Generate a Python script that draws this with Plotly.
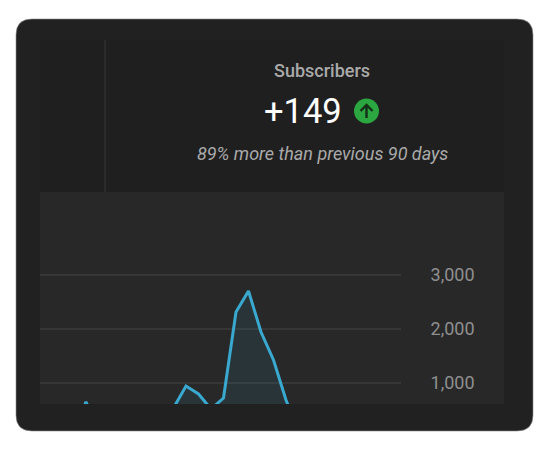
import plotly.graph_objects as go

# daily subscribers, the chart is cropped at the bottom so low values are estimates
days = list(range(30))
subs = [90, 70, 60, 120, 650, 130, 110, 80, 90, 120, 150, 537, 944, 796, 518,
        722, 2315, 2704, 1944, 1426, 685, 100, 80, 60, 90, 70, 60, 80, 70, 60]
tick_vals = [1000, 2000, 3000]
tick_text = ["1,000", "2,000", "3,000"]

title = "Subscribers"
big_number = "+149"
subtitle = "89% more than previous 90 days"

W, H = 550, 450
L, R, T, B = 40, 401, 192, 404


def px(x):
    return (x - L) / (R - L)


def py(y):
    return (B - y) / (B - T)


def rounded(x0, y0, x1, y1, r):
    return (f"M {px(x0 + r)} {py(y0)} L {px(x1 - r)} {py(y0)} "
            f"Q {px(x1)} {py(y0)} {px(x1)} {py(y0 + r)} L {px(x1)} {py(y1 - r)} "
            f"Q {px(x1)} {py(y1)} {px(x1 - r)} {py(y1)} L {px(x0 + r)} {py(y1)} "
            f"Q {px(x0)} {py(y1)} {px(x0)} {py(y1 - r)} L {px(x0)} {py(y0 + r)} "
            f"Q {px(x0)} {py(y0)} {px(x0 + r)} {py(y0)} Z")


def paper_shape(**kw):
    return dict(xref="paper", yref="paper", layer="below", **kw)


fig = go.Figure(go.Scatter(
    x=days, y=subs, mode="lines",
    line=dict(color="#3aa9cf", width=3),
    fill="tozeroy", fillcolor="rgba(58,169,207,0.1)",
    hoverinfo="skip",
))

shapes = [
    paper_shape(type="path", path=rounded(16, 19, 533, 431, 16),
                fillcolor="#212121", line=dict(color="#8a8a8a", width=0.6)),
    paper_shape(type="rect", x0=px(40), x1=px(504), y0=py(192), y1=py(40),
                fillcolor="#1f1f1f", line_width=0),
    paper_shape(type="rect", x0=px(40), x1=px(504), y0=py(404), y1=py(192),
                fillcolor="#282828", line_width=0),
    paper_shape(type="line", x0=px(105), x1=px(105), y0=py(192), y1=py(40),
                line=dict(color="#383838", width=1)),
    # up arrow badge
    dict(type="circle", xref="paper", yref="paper", layer="above",
         x0=px(354), x1=px(379), y0=py(123.5), y1=py(98.5),
         fillcolor="#2ba640", line_width=0),
    dict(type="path", xref="paper", yref="paper", layer="above",
         path=f"M {px(366.5)} {py(118)} L {px(366.5)} {py(105)} "
              f"M {px(360.5)} {py(111)} L {px(366.5)} {py(105)} L {px(372.5)} {py(111)}",
         line=dict(color="#143019", width=2.4)),
]


def label(text, x, y, size, color, **font):
    return dict(text=text, xref="paper", yref="paper", x=px(x), y=py(y),
                xanchor="center", yanchor="middle", showarrow=False,
                font=dict(family="Roboto", size=size, color=color, **font))


fig.update_layout(
    width=W, height=H, autosize=False,
    margin=dict(l=L, r=W - R, t=T, b=H - B),
    paper_bgcolor="#ffffff", plot_bgcolor="rgba(0,0,0,0)",
    showlegend=False,
    shapes=shapes,
    annotations=[
        label(title, 322, 70, 18, "#aaaaaa", weight=500),
        label(big_number, 303, 111, 34.5, "#ffffff"),
        label(subtitle, 322, 153, 18, "#aaaaaa", style="italic"),
    ],
    xaxis=dict(range=[0.32, 29.2], visible=False),
    yaxis=dict(
        range=[611, 4537], side="right",
        tickvals=tick_vals, ticktext=tick_text,
        ticks="outside", ticklen=25, tickcolor="rgba(0,0,0,0)",
        tickfont=dict(family="Roboto", size=18, color="#8f8f8f"),
        gridcolor="#363636", gridwidth=1.6, zeroline=False, showline=False,
    ),
)

# page margin would push the plot 8px off
fig.write_html("out.html", config=dict(displayModeBar=False),
               post_script="document.body.style.margin='0';")
